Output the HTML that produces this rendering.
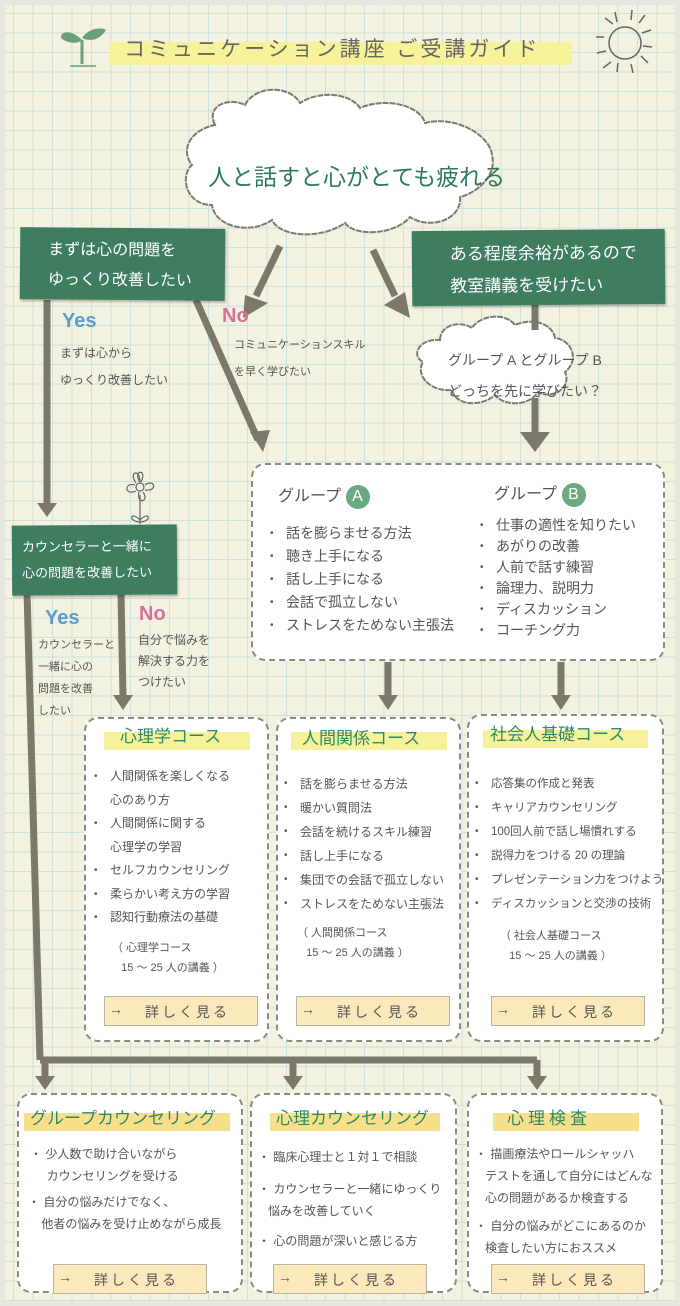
<!DOCTYPE html>
<html><head><meta charset="utf-8"><style>
*{margin:0;padding:0;box-sizing:border-box}
body{width:680px;height:1306px;overflow:hidden;background:#e6e6e0;font-family:"Liberation Sans","Noto Sans CJK JP",sans-serif;color:#555}
#pg{position:absolute;left:5px;top:5px;width:670px;height:1296px;background-color:#f3f1df;
background-image:linear-gradient(#cfe1dc 1px,transparent 1px),linear-gradient(90deg,#cfe1dc 1px,transparent 1px);background-size:19.5px 19.5px;background-position:8px 8px}
.a{position:absolute}
.g{position:absolute;background:#3e7d60;color:#fff;box-shadow:1px 2px 2px rgba(0,0,0,.25)}
.card{position:absolute;background:#fff;border:2px dashed #8a8a84;border-radius:14px}
.hl{position:absolute;background:#f6f29a}
.t{position:absolute;white-space:nowrap}
ul{list-style:none}
li{position:relative;padding-left:18px;white-space:nowrap}
li:before{content:"•";position:absolute;left:2px;font-size:10px}
li.n:before{content:""}
.btn{position:absolute;background:#fbe9bb;border:1px solid #b9b3a2;font-size:14px;color:#555;letter-spacing:3px}
.ct{position:absolute;font-size:17px;color:#2e8a66;white-space:nowrap}
</style></head><body>
<div id="pg"></div>
<svg class="a" style="left:0;top:0" width="680" height="1306">
 <path d="M82 40 L82 64" stroke="#6aa07c" stroke-width="3"/>
 <path d="M82 40 C70 28 60 32 61 38 C68 44 78 44 82 40Z" fill="#6aa07c"/>
 <path d="M82 38 C90 26 104 28 106 30 C100 40 90 42 82 38Z" fill="#6aa07c"/>
 <path d="M70 66 L96 66" stroke="#6aa07c" stroke-width="1.5"/>
 <g stroke="#666" stroke-width="1.5" fill="none"><circle cx="625" cy="43" r="16"/>
 <path d="M605 18l8 6M615 12l2 10M632 10l-1 10M645 15l-6 8M651 30l-9 3M652 47l-9-1M648 63l-7-7M633 73l-2-9M617 72l1-9M603 68l8-6M597 53l9-2M596 37l8 0"/></g>
 <path d="M215 125 C205 105 230 97 245 105 C255 85 290 85 300 103 C320 90 350 93 360 108 C385 97 420 105 425 123 C455 115 490 135 492 155 C498 180 470 195 460 197 C462 220 430 230 410 217 C395 235 355 237 345 223 C320 240 280 237 272 220 C250 235 215 227 212 205 C185 205 180 175 192 165 C180 150 190 130 215 125Z" fill="#fff" stroke="#7a7a72" stroke-width="2" stroke-dasharray="6 1"/>
 <path d="M440 340 C440 325 460 320 472 328 C480 315 505 312 515 325 C530 318 552 322 555 338 C572 340 580 360 565 372 C572 388 552 400 538 392 C528 408 502 405 495 395 C480 408 455 405 452 390 C430 392 415 375 423 362 C410 355 420 338 440 340Z" fill="#fff" stroke="#7a7a72" stroke-width="2" stroke-dasharray="6 1"/>
 <g stroke="#666" stroke-width="1.2" fill="none"><circle cx="140" cy="487" r="4"/>
 <path d="M140 482 C132 470 148 468 141 482 M145 485 C155 478 158 492 145 490 M143 492 C150 502 136 505 139 492 M136 491 C124 496 124 482 135 485 M136 483 C128 472 140 468 140 482"/>
 <path d="M140 495 L140 524 M140 520 C130 510 128 522 140 522 C152 522 150 510 140 520"/></g>
 <g stroke="#7c786a" stroke-width="7" fill="none">
 <path d="M280 246 L256 296"/><path d="M373 250 L395 296"/>
 <path d="M47 300 L47 505"/><path d="M196 300 L258 440"/>
 <path d="M535 305 L535 330"/><path d="M535 398 L535 435"/>
 <path d="M27 592 L40 1060 M40 1060 L537 1060"/><path d="M45 1060 L45 1078"/><path d="M293 1060 L293 1078"/><path d="M537 1060 L537 1078"/>
 <path d="M121 594 L123 697"/><path d="M388 662 L388 697"/><path d="M561 662 L561 697"/>
 </g>
 <g fill="#7c786a">
 <polygon points="243,318 268,303 245,295"/><polygon points="410,318 384,305 405,292"/>
 <polygon points="37,503 57,503 47,517"/><polygon points="250,432 270,430 263,452"/>
 <polygon points="520,432 550,432 535,452"/>
 <polygon points="113,695 133,695 123,710"/><polygon points="378,695 398,695 388,710"/><polygon points="551,695 571,695 561,710"/>
 <polygon points="35,1076 55,1076 45,1090"/><polygon points="283,1076 303,1076 293,1090"/><polygon points="527,1076 547,1076 537,1090"/>
 </g>
</svg>
<div class="hl" style="left:110px;top:42px;width:462px;height:23px"></div>
<div class="t" style="left:124px;top:33px;font-size:21px;color:#666;letter-spacing:3px">コミュニケーション講座 ご受講ガイド</div>
<div class="t" style="left:208px;top:158px;font-size:23px;color:#2e7a5a">人と話すと心がとても疲れる</div>
<div class="t" style="left:46px;top:250px;font-size:22px;font-weight:bold;color:#5a9bd0">Yes</div>
<div class="t" style="left:100px;top:255px;font-size:15px;color:#555;letter-spacing:2px">とても疲れる</div>
<div class="t" style="left:422px;top:257px;font-size:22px;font-weight:bold;color:#d8719a">No</div>
<div class="t" style="left:470px;top:262px;font-size:15px;color:#555;letter-spacing:2px">そこまで疲れない</div>
<div class="g" style="left:20px;top:228px;width:205px;height:72px;transform:rotate(0.5deg)"><div style="position:absolute;left:28px;top:8px;font-size:16px;line-height:30px">まずは心の問題を<br>ゆっくり改善したい</div></div>
<div class="g" style="left:412px;top:230px;width:253px;height:75px;transform:rotate(-0.5deg)"><div style="position:absolute;left:38px;top:8px;font-size:17px;line-height:32px">ある程度余裕があるので<br>教室講義を受けたい</div></div>
<div class="t" style="left:62px;top:310px;font-size:20px;font-weight:bold;color:#5a9bd0">Yes</div>
<div class="t" style="left:60px;top:340px;font-size:12px;line-height:27px">まずは心から<br>ゆっくり改善したい</div>
<div class="t" style="left:222px;top:305px;font-size:20px;font-weight:bold;color:#d8719a">No</div>
<div class="t" style="left:234px;top:332px;font-size:11px;line-height:27px">コミュニケーションスキル<br>を早く学びたい</div>
<div class="t" style="left:448px;top:345px;font-size:14px;line-height:31px">グループ A とグループ B<br>どっちを先に学びたい？</div>
<div class="card" style="left:251px;top:463px;width:414px;height:198px"></div>
<div class="t" style="left:278px;top:482px;font-size:16px">グループ <span style="display:inline-block;width:24px;height:24px;border-radius:12px;background:#6aaa7e;color:#fff;text-align:center;line-height:24px">A</span></div>
<div class="t" style="left:494px;top:480px;font-size:16px">グループ <span style="display:inline-block;width:24px;height:24px;border-radius:12px;background:#6aaa7e;color:#fff;text-align:center;line-height:24px">B</span></div>
<ul class="t" style="left:268px;top:522px;font-size:14px;line-height:23px"><li>話を膨らませる方法</li><li>聴き上手になる</li><li>話し上手になる</li><li>会話で孤立しない</li><li>ストレスをためない主張法</li></ul>
<ul class="t" style="left:478px;top:515px;font-size:14px;line-height:21px"><li>仕事の適性を知りたい</li><li>あがりの改善</li><li>人前で話す練習</li><li>論理力、説明力</li><li>ディスカッション</li><li>コーチング力</li></ul>
<div class="g" style="left:12px;top:525px;width:165px;height:70px;transform:rotate(-0.4deg)"><div style="position:absolute;left:10px;top:9px;font-size:13px;line-height:26px">カウンセラーと一緒に<br>心の問題を改善したい</div></div>
<div class="t" style="left:45px;top:607px;font-size:20px;font-weight:bold;color:#5a9bd0">Yes</div>
<div class="t" style="left:38px;top:634px;font-size:11px;line-height:22px">カウンセラーと<br>一緒に心の<br>問題を改善<br>したい</div>
<div class="t" style="left:139px;top:603px;font-size:20px;font-weight:bold;color:#d8719a">No</div>
<div class="t" style="left:138px;top:630px;font-size:12px;line-height:21px">自分で悩みを<br>解決する力を<br>つけたい</div>
<div class="card" style="left:84px;top:717px;width:185px;height:325px"></div>
<div class="card" style="left:276px;top:717px;width:185px;height:325px"></div>
<div class="card" style="left:467px;top:714px;width:197px;height:328px"></div>
<div class="hl" style="left:104px;top:732px;width:146px;height:18px"></div>
<div class="ct" style="left:120px;top:722px">心理学コース</div>
<div class="hl" style="left:291px;top:732px;width:156px;height:18px"></div>
<div class="ct" style="left:302px;top:724px">人間関係コース</div>
<div class="hl" style="left:483px;top:730px;width:165px;height:18px"></div>
<div class="ct" style="left:490px;top:720px">社会人基礎コース</div>
<ul class="t" style="left:92px;top:765px;font-size:12px;line-height:23.5px"><li>人間関係を楽しくなる</li><li class="n">心のあり方</li><li>人間関係に関する</li><li class="n">心理学の学習</li><li>セルフカウンセリング</li><li>柔らかい考え方の学習</li><li>認知行動療法の基礎</li></ul>
<ul class="t" style="left:282px;top:772px;font-size:12px;line-height:24px"><li>話を膨らませる方法</li><li>暖かい質問法</li><li>会話を続けるスキル練習</li><li>話し上手になる</li><li>集団での会話で孤立しない</li><li>ストレスをためない主張法</li></ul>
<ul class="t" style="left:473px;top:772px;font-size:11.5px;line-height:24px"><li>応答集の作成と発表</li><li>キャリアカウンセリング</li><li>100回人前で話し場慣れする</li><li>説得力をつける 20 の理論</li><li>プレゼンテーション力をつけよう</li><li>ディスカッションと交渉の技術</li></ul>
<div class="t" style="left:112px;top:938px;font-size:11px;line-height:20px">（ 心理学コース<br>&nbsp;&nbsp;&nbsp;15 〜 25 人の講義 ）</div>
<div class="t" style="left:297px;top:923px;font-size:11px;line-height:20px">（ 人間関係コース<br>&nbsp;&nbsp;&nbsp;15 〜 25 人の講義 ）</div>
<div class="t" style="left:500px;top:926px;font-size:11px;line-height:20px">（ 社会人基礎コース<br>&nbsp;&nbsp;&nbsp;15 〜 25 人の講義 ）</div>
<div class="btn" style="left:104px;top:996px;width:154px;height:30px"><span style="position:absolute;left:4px;top:4px">→</span><span style="position:absolute;left:40px;top:5px">詳しく見る</span></div>
<div class="btn" style="left:296px;top:996px;width:154px;height:30px"><span style="position:absolute;left:4px;top:4px">→</span><span style="position:absolute;left:40px;top:5px">詳しく見る</span></div>
<div class="btn" style="left:491px;top:996px;width:154px;height:30px"><span style="position:absolute;left:4px;top:4px">→</span><span style="position:absolute;left:40px;top:5px">詳しく見る</span></div>
<div class="card" style="left:17px;top:1093px;width:226px;height:200px"></div>
<div class="card" style="left:250px;top:1093px;width:207px;height:200px"></div>
<div class="card" style="left:467px;top:1093px;width:196px;height:200px"></div>
<div class="hl" style="left:24px;top:1113px;width:206px;height:18px;background:#f8e08a"></div>
<div class="ct" style="left:30px;top:1104px">グループカウンセリング</div>
<div class="hl" style="left:270px;top:1113px;width:170px;height:18px;background:#f8e08a"></div>
<div class="ct" style="left:276px;top:1104px">心理カウンセリング</div>
<div class="hl" style="left:493px;top:1113px;width:146px;height:18px;background:#f8e08a"></div>
<div class="ct" style="left:507px;top:1104px;letter-spacing:4px">心理検査</div>
<div class="t" style="left:30px;top:1143px;font-size:12px;line-height:22px">・ 少人数で助け合いながら<br>&nbsp;&nbsp;&nbsp;&nbsp;&nbsp;カウンセリングを受ける</div>
<div class="t" style="left:28px;top:1191px;font-size:12px;line-height:22px">・ 自分の悩みだけでなく、<br>&nbsp;&nbsp;&nbsp;&nbsp;他者の悩みを受け止めながら成長</div>
<div class="t" style="left:258px;top:1146px;font-size:12px;line-height:22px">・ 臨床心理士と１対１で相談</div>
<div class="t" style="left:258px;top:1178px;font-size:12px;line-height:22px">・ カウンセラーと一緒にゆっくり<br>&nbsp;&nbsp;&nbsp;悩みを改善していく</div>
<div class="t" style="left:258px;top:1230px;font-size:12px;line-height:22px">・ 心の問題が深いと感じる方</div>
<div class="t" style="left:475px;top:1143px;font-size:12px;line-height:22px">・ 描画療法やロールシャッハ<br>&nbsp;&nbsp;&nbsp;テストを通して自分にはどんな<br>&nbsp;&nbsp;&nbsp;心の問題があるか検査する</div>
<div class="t" style="left:475px;top:1215px;font-size:12px;line-height:22px">・ 自分の悩みがどこにあるのか<br>&nbsp;&nbsp;&nbsp;検査したい方におススメ</div>
<div class="btn" style="left:53px;top:1264px;width:154px;height:30px"><span style="position:absolute;left:4px;top:4px">→</span><span style="position:absolute;left:40px;top:5px">詳しく見る</span></div>
<div class="btn" style="left:273px;top:1264px;width:154px;height:30px"><span style="position:absolute;left:4px;top:4px">→</span><span style="position:absolute;left:40px;top:5px">詳しく見る</span></div>
<div class="btn" style="left:491px;top:1264px;width:154px;height:30px"><span style="position:absolute;left:4px;top:4px">→</span><span style="position:absolute;left:40px;top:5px">詳しく見る</span></div>
</body></html>
